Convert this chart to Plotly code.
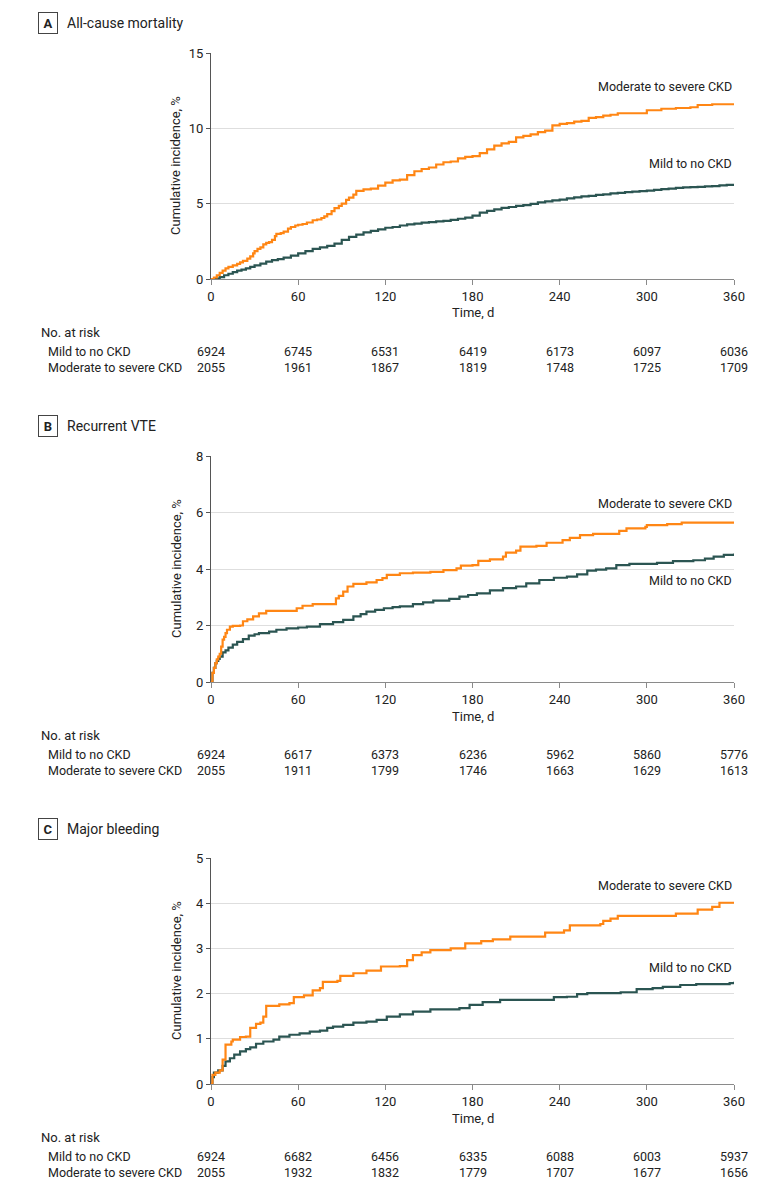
import plotly.graph_objects as go

# ---- data ----
risk_days = [0, 60, 120, 180, 240, 300, 360]

# A  All-cause mortality
a_mod_t = [0, 2, 4, 6, 8, 10, 12, 15, 18, 20, 22, 25, 27, 29, 30, 32, 34, 36, 38, 40, 42, 44, 45, 48,
           50, 53, 55, 58, 60, 63, 66, 70, 73, 76, 78, 80, 83, 85, 88, 90, 93, 95, 98, 100, 105, 110,
           115, 120, 125, 130, 135, 140, 145, 150, 155, 160, 165, 170, 175, 180, 185, 190, 195, 200,
           205, 210, 215, 220, 225, 230, 235, 240, 245, 250, 255, 260, 265, 270, 275, 280, 295, 300,
           310, 320, 330, 335, 345, 360]
a_mod_v = [0, 0.1, 0.25, 0.4, 0.55, 0.7, 0.8, 0.9, 1.0, 1.1, 1.2, 1.35, 1.5, 1.7, 1.85, 2.0, 2.1, 2.3,
           2.4, 2.45, 2.6, 2.85, 3.0, 3.05, 3.15, 3.35, 3.45, 3.55, 3.6, 3.65, 3.75, 3.9, 3.95, 4.05,
           4.15, 4.3, 4.5, 4.7, 4.85, 5.0, 5.25, 5.4, 5.6, 5.85, 5.95, 6.0, 6.2, 6.4, 6.55, 6.6, 6.9,
           7.15, 7.3, 7.4, 7.6, 7.75, 7.8, 8.0, 8.1, 8.15, 8.35, 8.6, 8.85, 9.0, 9.1, 9.4, 9.5, 9.6,
           9.75, 9.85, 10.2, 10.3, 10.35, 10.45, 10.5, 10.7, 10.75, 10.85, 10.9, 11.0, 11.0, 11.2, 11.3,
           11.35, 11.4, 11.55, 11.6, 11.65]
a_mild_t = [0, 3, 6, 9, 12, 15, 18, 21, 24, 27, 30, 34, 38, 42, 46, 50, 55, 60, 65, 70, 75, 80, 85, 90,
            95, 100, 105, 110, 115, 120, 125, 130, 135, 140, 145, 150, 155, 160, 165, 170, 175, 180,
            185, 190, 195, 200, 205, 210, 215, 220, 225, 230, 235, 240, 245, 250, 255, 260, 265, 270,
            275, 280, 285, 290, 295, 300, 305, 310, 315, 320, 325, 330, 335, 340, 345, 350, 355, 360]
a_mild_v = [0, 0.02, 0.12, 0.25, 0.35, 0.45, 0.55, 0.62, 0.7, 0.8, 0.9, 1.02, 1.15, 1.25, 1.32, 1.42,
            1.55, 1.7, 1.85, 2.0, 2.1, 2.2, 2.35, 2.6, 2.8, 2.95, 3.1, 3.2, 3.3, 3.4, 3.45, 3.55, 3.62,
            3.68, 3.74, 3.78, 3.82, 3.86, 3.92, 4.0, 4.08, 4.2, 4.4, 4.52, 4.62, 4.72, 4.78, 4.85, 4.9,
            4.98, 5.08, 5.15, 5.22, 5.27, 5.35, 5.42, 5.48, 5.52, 5.58, 5.62, 5.68, 5.72, 5.76, 5.8,
            5.83, 5.86, 5.92, 5.97, 6.0, 6.05, 6.08, 6.1, 6.12, 6.15, 6.17, 6.22, 6.25, 6.3]
a_risk_mild = [6924, 6745, 6531, 6419, 6173, 6097, 6036]
a_risk_mod = [2055, 1961, 1867, 1819, 1748, 1725, 1709]

# B  Recurrent VTE
b_mod_t = [0, 1, 2, 3, 4, 5, 6, 7, 8, 9, 10, 11, 13, 15, 20, 22, 25, 29, 33, 38, 56, 59, 63, 70, 84,
           86, 88, 91, 94, 98, 107, 114, 118, 121, 130, 139, 151, 160, 169, 172, 180, 184, 192, 201,
           203, 210, 213, 224, 231, 242, 247, 254, 263, 278, 281, 286, 299, 300, 314, 324, 360]
b_mod_v = [0, 0.32, 0.5, 0.67, 0.8, 0.9, 1.0, 1.25, 1.5, 1.6, 1.73, 1.85, 1.96, 1.99, 2.0, 2.15, 2.22,
           2.32, 2.43, 2.52, 2.52, 2.61, 2.7, 2.76, 2.76, 2.96, 3.05, 3.2, 3.38, 3.47, 3.53, 3.61, 3.68,
           3.79, 3.85, 3.87, 3.9, 3.96, 4.02, 4.12, 4.14, 4.29, 4.34, 4.44, 4.58, 4.65, 4.79, 4.82,
           4.93, 5.02, 5.1, 5.2, 5.24, 5.24, 5.35, 5.44, 5.49, 5.55, 5.59, 5.64, 5.64]
b_mild_t = [0, 1, 2, 3, 4, 5, 6, 8, 10, 12, 15, 18, 22, 26, 30, 33, 40, 45, 52, 60, 66, 75, 84, 91,
            98, 103, 107, 113, 119, 125, 130, 139, 146, 153, 164, 171, 177, 183, 192, 201, 210, 217,
            226, 236, 245, 252, 259, 265, 272, 279, 288, 307, 318, 332, 340, 346, 353, 360]
b_mild_v = [0, 0.32, 0.5, 0.67, 0.75, 0.82, 0.9, 1.05, 1.12, 1.22, 1.32, 1.42, 1.52, 1.64, 1.69, 1.73,
            1.78, 1.85, 1.9, 1.93, 1.96, 2.05, 2.12, 2.2, 2.32, 2.4, 2.49, 2.55, 2.61, 2.65, 2.68, 2.76,
            2.82, 2.88, 2.94, 3.02, 3.08, 3.14, 3.24, 3.32, 3.38, 3.49, 3.61, 3.69, 3.73, 3.81, 3.94,
            3.98, 4.02, 4.14, 4.18, 4.22, 4.28, 4.31, 4.37, 4.44, 4.5, 4.55]
b_risk_mild = [6924, 6617, 6373, 6236, 5962, 5860, 5776]
b_risk_mod = [2055, 1911, 1799, 1746, 1663, 1629, 1613]

# C  Major bleeding
c_mod_t = [0, 1, 3, 6, 8, 10, 14, 15, 20, 24, 27, 31, 34, 36, 38, 47, 54, 57, 64, 70, 75, 77, 87, 89,
           98, 107, 117, 130, 135, 139, 145, 151, 165, 175, 186, 194, 206, 230, 243, 247, 268, 270,
           275, 280, 320, 335, 345, 350, 360]
c_mod_v = [0, 0.2, 0.25, 0.3, 0.54, 0.87, 0.94, 0.98, 1.04, 1.05, 1.24, 1.33, 1.36, 1.49, 1.73, 1.76,
           1.79, 1.92, 1.96, 2.07, 2.12, 2.26, 2.28, 2.39, 2.45, 2.51, 2.6, 2.61, 2.74, 2.85, 2.91, 2.96,
           3.0, 3.11, 3.16, 3.2, 3.26, 3.35, 3.4, 3.51, 3.54, 3.61, 3.66, 3.72, 3.77, 3.86, 3.92, 4.01,
           4.03]
c_mild_t = [0, 1, 2, 5, 8, 10, 13, 16, 20, 24, 27, 31, 36, 43, 47, 54, 61, 68, 75, 80, 84, 91, 98, 107,
            114, 121, 130, 139, 151, 171, 178, 187, 199, 228, 236, 245, 252, 259, 282, 293, 304, 311,
            323, 334, 357, 360]
c_mild_v = [0, 0.15, 0.25, 0.3, 0.4, 0.5, 0.57, 0.65, 0.72, 0.77, 0.81, 0.89, 0.94, 0.98, 1.05, 1.09,
            1.12, 1.16, 1.18, 1.24, 1.27, 1.31, 1.36, 1.38, 1.42, 1.49, 1.54, 1.6, 1.65, 1.68, 1.75,
            1.81, 1.86, 1.86, 1.92, 1.93, 1.99, 2.01, 2.03, 2.1, 2.12, 2.15, 2.19, 2.21, 2.23, 2.26]
c_risk_mild = [6924, 6682, 6456, 6335, 6088, 6003, 5937]
c_risk_mod = [2055, 1932, 1832, 1779, 1707, 1677, 1656]

ORANGE = '#FF8614'
TEAL = '#2B5552'
TXT = '#222222'
FONT = 'Roboto, sans-serif'
W, H = 783, 1190


def py(p):  # pixel from top -> paper y
    return 1 - p / H


panels = [
    dict(letter='A', title='All-cause mortality', top=53, bottom=279, ymax=15, dtick=5,
         mod=(a_mod_t, a_mod_v), mild=(a_mild_t, a_mild_v), risk=(a_risk_mild, a_risk_mod),
         title_y=23, lab_mod=87, lab_mild=164),
    dict(letter='B', title='Recurrent VTE', top=456, bottom=682, ymax=8, dtick=2,
         mod=(b_mod_t, b_mod_v), mild=(b_mild_t, b_mild_v), risk=(b_risk_mild, b_risk_mod),
         title_y=426, lab_mod=503, lab_mild=580),
    dict(letter='C', title='Major bleeding', top=858, bottom=1084, ymax=5, dtick=1,
         mod=(c_mod_t, c_mod_v), mild=(c_mild_t, c_mild_v), risk=(c_risk_mild, c_risk_mod),
         title_y=829, lab_mod=885, lab_mild=967),
]

fig = go.Figure()
annotations = []
x0, x1 = 211, 734

for i, p in enumerate(panels):
    n = '' if i == 0 else str(i + 1)
    xa, ya = 'x' + n, 'y' + n
    fig.add_trace(go.Scatter(x=p['mild'][0], y=p['mild'][1], mode='lines', line_shape='hv',
                             line=dict(color=TEAL, width=2.2), xaxis=xa, yaxis=ya, showlegend=False))
    fig.add_trace(go.Scatter(x=p['mod'][0], y=p['mod'][1], mode='lines', line_shape='hv',
                             line=dict(color=ORANGE, width=2.2), xaxis=xa, yaxis=ya, showlegend=False))

    fig.layout['xaxis' + n] = dict(
        domain=[x0 / W, x1 / W], range=[0, 360], tickvals=risk_days, anchor=ya, automargin=False,
        showline=True, linecolor='#8a8a8a', linewidth=1, ticks='outside', ticklen=5,
        tickcolor='#8a8a8a', showgrid=False, zeroline=False,
        tickfont=dict(family=FONT, size=13, color=TXT))
    fig.layout['yaxis' + n] = dict(
        domain=[py(p['bottom']), py(p['top'])], range=[0, p['ymax']], dtick=p['dtick'], anchor=xa,
        automargin=False, showline=True, linecolor='#555555', linewidth=1, ticks='outside',
        ticklen=4, tickcolor='#555555', showgrid=True, gridcolor='#dedede', gridwidth=1,
        zeroline=False, tickfont=dict(family=FONT, size=13, color=TXT))

    # panel heading
    annotations.append(dict(text='<b>' + p['letter'] + '</b>', x=48 / W, y=py(p['title_y']),
                            xref='paper', yref='paper', showarrow=False, xanchor='center',
                            yanchor='middle', width=16, height=18, bordercolor='#444', borderwidth=1,
                            borderpad=1, font=dict(family=FONT, size=13, color=TXT)))
    annotations.append(dict(text=p['title'], x=65 / W, y=py(p['title_y']), xref='paper', yref='paper',
                            showarrow=False, xanchor='left', yanchor='middle',
                            font=dict(family=FONT, size=14, color=TXT)))
    # y title
    annotations.append(dict(text='Cumulative incidence, %', x=176 / W,
                            y=py((p['top'] + p['bottom']) / 2), xref='paper', yref='paper',
                            textangle=-90, showarrow=False, xanchor='center', yanchor='middle',
                            font=dict(family=FONT, size=13, color=TXT)))
    # curve labels
    annotations.append(dict(text='Moderate to severe CKD', x=x1 / W, y=py(p['lab_mod']), xref='paper',
                            yref='paper', showarrow=False, xanchor='right', yanchor='middle',
                            font=dict(family=FONT, size=12.5, color=TXT)))
    annotations.append(dict(text='Mild to no CKD', x=x1 / W, y=py(p['lab_mild']), xref='paper',
                            yref='paper', showarrow=False, xanchor='right', yanchor='middle',
                            font=dict(family=FONT, size=12.5, color=TXT)))
    # x title
    b = p['bottom']
    annotations.append(dict(text='Time, d', x=(x0 + x1) / 2 / W, y=py(b + 34), xref='paper',
                            yref='paper', showarrow=False, xanchor='center', yanchor='middle',
                            font=dict(family=FONT, size=13, color=TXT)))
    # risk table
    annotations.append(dict(text='No. at risk', x=39 / W, y=py(b + 53), xref='paper', yref='paper',
                            showarrow=False, xanchor='left', yanchor='middle',
                            font=dict(family=FONT, size=13, color=TXT)))
    for row, (lab, vals) in enumerate([('Mild to no CKD', p['risk'][0]),
                                       ('Moderate to severe CKD', p['risk'][1])]):
        yy = py(b + 72 + 16 * row)
        annotations.append(dict(text=lab, x=46 / W, y=yy, xref='paper', yref='paper',
                                showarrow=False, xanchor='left', yanchor='middle',
                                font=dict(family=FONT, size=12.5, color=TXT)))
        for d, v in zip(risk_days, vals):
            annotations.append(dict(text=str(v), x=d, y=yy, xref=xa, yref='paper',
                                    showarrow=False, xanchor='center', yanchor='middle',
                                    font=dict(family=FONT, size=12.5, color=TXT)))

fig.update_layout(width=W, height=H, margin=dict(l=0, r=0, t=0, b=0, autoexpand=False),
                  paper_bgcolor='white', plot_bgcolor='white', annotations=annotations,
                  font=dict(family=FONT, color=TXT))
fig.write_html("out.html", config={'displayModeBar': False},
               post_script="document.documentElement.style.overflow='hidden';"
                           "document.body.style.margin='0';document.body.style.overflow='hidden';")
